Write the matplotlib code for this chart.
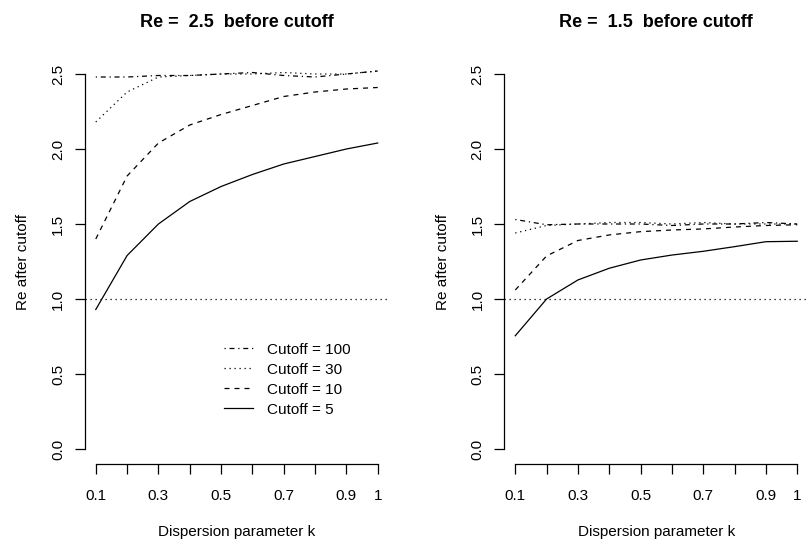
import matplotlib
matplotlib.use("Agg")
from matplotlib import pyplot as plt
import numpy as np

plt.rcParams['font.family'] = ['Liberation Sans', 'DejaVu Sans']

k = [0.1, 0.2, 0.3, 0.4, 0.5, 0.6, 0.7, 0.8, 0.9, 1.0]

# Re = 2.5 before cutoff
re25_cut5 = [0.93, 1.29, 1.50, 1.65, 1.75, 1.83, 1.90, 1.95, 2.00, 2.04]
re25_cut10 = [1.40, 1.82, 2.04, 2.16, 2.23, 2.29, 2.35, 2.38, 2.40, 2.41]
re25_cut30 = [2.18, 2.38, 2.48, 2.49, 2.50, 2.50, 2.51, 2.50, 2.50, 2.52]
re25_cut100 = [2.48, 2.48, 2.49, 2.49, 2.50, 2.51, 2.49, 2.48, 2.50, 2.52]

# Re = 1.5 before cutoff
re15_cut5 = [0.755, 1.00, 1.127, 1.205, 1.26, 1.293, 1.318, 1.349, 1.382, 1.385]
re15_cut10 = [1.06, 1.287, 1.39, 1.427, 1.449, 1.46, 1.467, 1.48, 1.49, 1.495]
re15_cut30 = [1.44, 1.49, 1.50, 1.51, 1.51, 1.50, 1.51, 1.50, 1.50, 1.50]
re15_cut100 = [1.53, 1.495, 1.50, 1.50, 1.50, 1.49, 1.50, 1.50, 1.51, 1.50]

xtick_labels = ['0.1', '', '0.3', '', '0.5', '', '0.7', '', '0.9', '1']
yticks = [0.0, 0.5, 1.0, 1.5, 2.0, 2.5]

styles = {
    'Cutoff = 100': (0, (1, 3, 4, 3)),
    'Cutoff = 30': (0, (1, 3)),
    'Cutoff = 10': (0, (4, 4)),
    'Cutoff = 5': '-',
}

fig = plt.figure(figsize=(8.08, 5.43), dpi=100)
W, H = 808, 543


def make_axes(left_px):
    return fig.add_axes([left_px / W, (H - 464) / H, 304.5 / W, 405 / H])


panels = [
    (make_axes(84.5), 'Re =  2.5  before cutoff',
     [re25_cut100, re25_cut30, re25_cut10, re25_cut5]),
    (make_axes(504), 'Re =  1.5  before cutoff',
     [re15_cut100, re15_cut30, re15_cut10, re15_cut5]),
]

for i, (ax, title, series) in enumerate(panels):
    for (lab, ls), vals in zip(styles.items(), series):
        ax.plot(k, vals, color='black', lw=0.9, ls=ls, label=lab)
    ax.axhline(1.0, color='black', lw=0.9, ls=(0, (1, 3)))
    ax.set_xlim(0.064, 1.036)
    ax.set_ylim(-0.1, 2.6)
    ax.set_xticks(k)
    ax.set_xticklabels(xtick_labels)
    ax.set_yticks(yticks)
    ax.set_yticklabels(['%.1f' % v for v in yticks], rotation=90, va='center')
    for s in ['top', 'right']:
        ax.spines[s].set_visible(False)
    ax.spines['left'].set_bounds(0, 2.5)
    ax.spines['bottom'].set_bounds(0.1, 1.0)
    ax.spines['left'].set_linewidth(0.9)
    ax.spines['bottom'].set_linewidth(0.9)
    ax.tick_params(direction='out', length=7, width=0.9, labelsize=11)
    ax.tick_params(axis='x', pad=11)
    ax.tick_params(axis='y', pad=7)
    ax.set_title(title, fontsize=13, fontweight='bold', pad=23)
    ax.set_xlabel('Dispersion parameter k', fontsize=11, labelpad=16)
    ax.set_ylabel('Re after cutoff', fontsize=11, labelpad=15)
    if i == 0:
        ax.legend(loc='upper left', bbox_to_anchor=(0.458, 0.30), frameon=False,
                  fontsize=11, handlelength=1.9, handletextpad=0.9,
                  labelspacing=0.4, borderpad=0, borderaxespad=0)

fig.savefig('out.png', dpi=100)
